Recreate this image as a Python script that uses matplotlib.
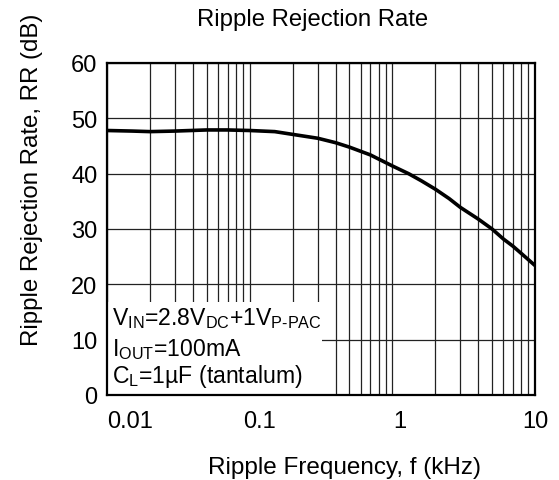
import matplotlib
matplotlib.use("Agg")
import matplotlib.pyplot as plt
from matplotlib.ticker import LogLocator, NullFormatter, FixedLocator
from matplotlib.patches import Rectangle
from matplotlib.transforms import ScaledTranslation

plt.rcParams['font.family'] = ['Liberation Sans', 'DejaVu Sans']
plt.rcParams['mathtext.fontset'] = 'custom'
plt.rcParams['mathtext.rm'] = 'Liberation Sans'
plt.rcParams['mathtext.default'] = 'regular'

# ripple rejection curve
freq_khz = [0.01, 0.015, 0.02, 0.03, 0.05, 0.07, 0.1, 0.15, 0.2, 0.3, 0.4, 0.5, 0.7,
            1.0, 1.3, 1.6, 2.0, 2.5, 3.0, 4.0, 5.0, 6.0, 7.0, 8.0, 10.0]
rr_db = [47.8, 47.7, 47.6, 47.7, 47.9, 47.9, 47.8, 47.6, 47.1, 46.4, 45.6, 44.8, 43.4,
         41.4, 40.0, 38.7, 37.2, 35.5, 33.9, 31.8, 30.0, 28.2, 26.9, 25.6, 23.4]

x_ticks = [0.01, 0.1, 1, 10]
x_tick_labels = ["0.01", "0.1", "1", "10"]
y_ticks = [0, 10, 20, 30, 40, 50, 60]

fig = plt.figure(figsize=(5.59, 4.81), dpi=100)
ax = fig.add_axes([107 / 559, 1 - 396 / 481, 428 / 559, 332 / 481])

ax.plot(freq_khz, rr_db, color="black", lw=2.6, zorder=3, solid_capstyle="butt")
ax.set_xscale("log")
ax.set_xlim(0.01, 10)
ax.set_ylim(0, 60)

ax.xaxis.set_major_locator(FixedLocator(x_ticks))
ax.set_xticklabels(x_tick_labels)
ax.xaxis.set_minor_locator(LogLocator(base=10, subs=range(2, 10)))
ax.xaxis.set_minor_formatter(NullFormatter())
ax.set_yticks(y_ticks)

ax.set_axisbelow(True)
ax.grid(which="both", color="#222222", lw=0.9)
ax.tick_params(which="both", length=0, labelsize=17)
ax.tick_params(axis="x", pad=11)
ax.tick_params(axis="y", pad=7)
for sp in ax.spines.values():
    sp.set_linewidth(1.6)

# labels in the original sit a bit right of their grid lines
shifts = [23, 10, 7, 0]
for lab, dx in zip(ax.get_xticklabels(), shifts):
    lab.set_transform(lab.get_transform() + ScaledTranslation(dx / 100, 0, fig.dpi_scale_trans))

ax.set_xlabel("Ripple Frequency, f (kHz)", fontsize=17.5)
ax.xaxis.set_label_coords((345 - 107) / 428, (396 - 457) / 332)
ax.set_ylabel("Ripple Rejection Rate, RR (dB)", fontsize=17.3)
ax.yaxis.set_label_coords((43 - 107) / 428, (396 - 180) / 332)

fig.text(313 / 559, 1 - 20 / 481, "Ripple Rejection Rate", fontsize=17.2,
         ha="center", va="center")

# white condition box over the grid
ax.add_patch(Rectangle((0, 0), (322 - 107) / 428, (396 - 303) / 332,
                       transform=ax.transAxes, facecolor="white",
                       edgecolor="none", zorder=1))
cond = [r"$V_{IN}$=2.8$V_{DC}$+1$V_{P\text{-}PAC}$",
        r"$I_{OUT}$=100mA",
        r"$C_{L}$=1µF (tantalum)"]
for txt, yb in zip(cond, [325, 356, 383]):
    ax.text((112 - 107) / 428, (396 - yb) / 332, txt, transform=ax.transAxes,
            fontsize=16.6, va="baseline", ha="left", zorder=4)

fig.savefig("out.png", dpi=100)
